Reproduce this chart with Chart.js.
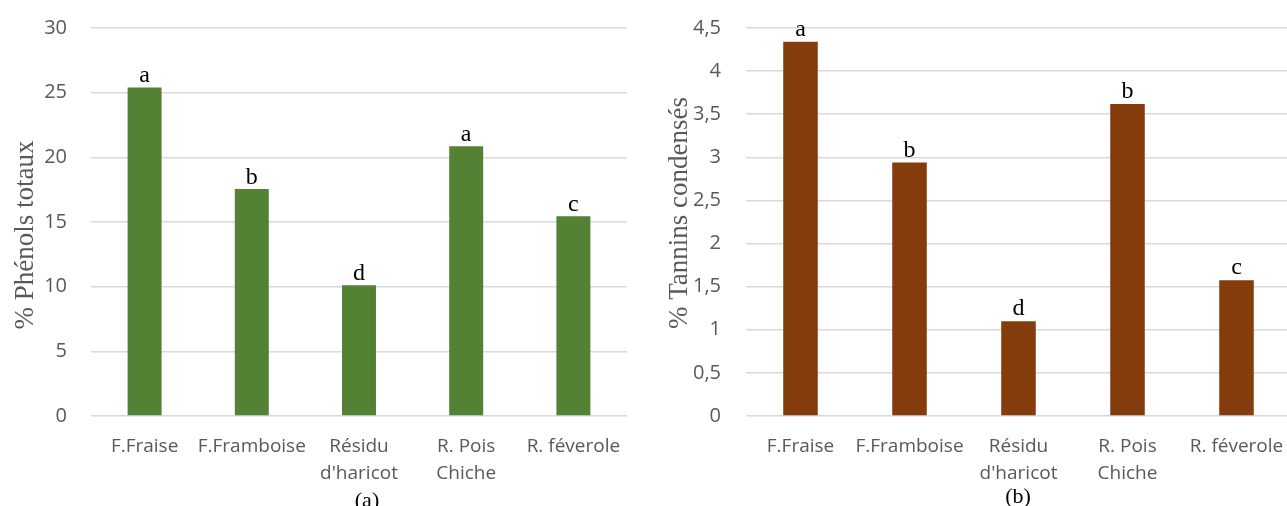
<!DOCTYPE html>
<html>
<head>
<meta charset="utf-8">
<script src="https://cdn.jsdelivr.net/npm/chart.js@4.4.0/dist/chart.umd.min.js"></script>
<style>
    html, body { margin: 0; padding: 0; background: #fff; overflow: hidden; }
    #wrapA { position: absolute; left: 0; top: 0; }
    #wrapB { position: absolute; left: 645px; top: 0; }
</style>
</head>
<body>
<div id="wrapA"><canvas id="chartA" width="640" height="506"></canvas></div>
<div id="wrapB"><canvas id="chartB" width="660" height="506"></canvas></div>
<script>
// Categories (same for both charts)
const categories = ['F.Fraise', 'F.Framboise', ['Résidu', "d'haricot"], ['R. Pois', 'Chiche'], 'R. féverole'];

// (a) Phénols totaux
const phenols = [25.4, 17.55, 10.1, 20.85, 15.45];
const phenolsLetters = ['a', 'b', 'd', 'a', 'c'];

// (b) Tannins condensés
const tannins = [4.34, 2.94, 1.10, 3.62, 1.575];
const tanninsLetters = ['a', 'b', 'd', 'b', 'c'];

const tickColor = '#595959';
const gridColor = '#d9d9d9';

// draws the letters above bars, the y title and the (a)/(b) caption
function annotations(letters, title, titleX, titleY, caption, capX, capY, gap) {
    return {
        id: 'annotations',
        afterDatasetsDraw(chart) {
            const ctx = chart.ctx;
            const bars = chart.getDatasetMeta(0).data;
            ctx.save();
            ctx.fillStyle = '#000';
            ctx.font = '24px "Liberation Serif", "Times New Roman", serif';
            ctx.textAlign = 'center';
            ctx.textBaseline = 'alphabetic';
            bars.forEach((bar, i) => {
                ctx.fillText(letters[i], bar.x, bar.y - gap);
            });

            ctx.font = '22px "Liberation Serif", "Times New Roman", serif';
            ctx.fillText(caption, capX, capY);

            ctx.fillStyle = tickColor;
            ctx.font = '27px "Liberation Serif", "Times New Roman", serif';
            ctx.translate(titleX, titleY);
            ctx.rotate(-Math.PI / 2);
            ctx.fillText(title, 0, 0);
            ctx.restore();
        }
    };
}

function makeChart(id, values, color, yMax, yStep, yWidth, yPad, padRight, plugin, decimalComma) {
    return new Chart(document.getElementById(id), {
        type: 'bar',
        data: {
            labels: categories,
            datasets: [{
                data: values,
                backgroundColor: color,
                borderWidth: 0,
                categoryPercentage: 1,
                barPercentage: 0.317
            }]
        },
        options: {
            responsive: false,
            animation: false,
            layout: { padding: { top: 28, right: padRight, left: 0, bottom: 0 } },
            plugins: { legend: { display: false }, tooltip: { enabled: false } },
            scales: {
                x: {
                    grid: { display: false },
                    border: { display: false },
                    ticks: {
                        color: tickColor,
                        font: { family: '"Open Sans", sans-serif', size: 19, lineHeight: '27px' },
                        padding: 9,
                        maxRotation: 0,
                        minRotation: 0,
                        autoSkip: false
                    },
                    afterFit: s => { s.height = 90; s.paddingLeft = 0; s.paddingRight = 0; }
                },
                y: {
                    min: 0,
                    max: yMax,
                    grid: { color: gridColor, lineWidth: 1.5, drawTicks: false },
                    border: { display: false },
                    ticks: {
                        stepSize: yStep,
                        color: tickColor,
                        font: { family: '"Open Sans", sans-serif', size: 20 },
                        padding: yPad,
                        callback: v => decimalComma ? String(v).replace('.', ',') : String(v)
                    },
                    afterFit: s => { s.width = yWidth; s.paddingTop = 0; s.paddingBottom = 0; }
                }
            }
        },
        plugins: [plugin]
    });
}

makeChart('chartA', phenols, '#548235', 30, 5, 91, 24, 13,
    annotations(phenolsLetters, '% Phénols totaux', 33, 235, '(a)', 367, 507, 5), false);

makeChart('chartB', tannins, '#843c0c', 4.5, 0.5, 101, 25, 14,
    annotations(tanninsLetters, '% Tannins condensés', 42, 213, '(b)', 373, 503, 6), true);
</script>
</body>
</html>
